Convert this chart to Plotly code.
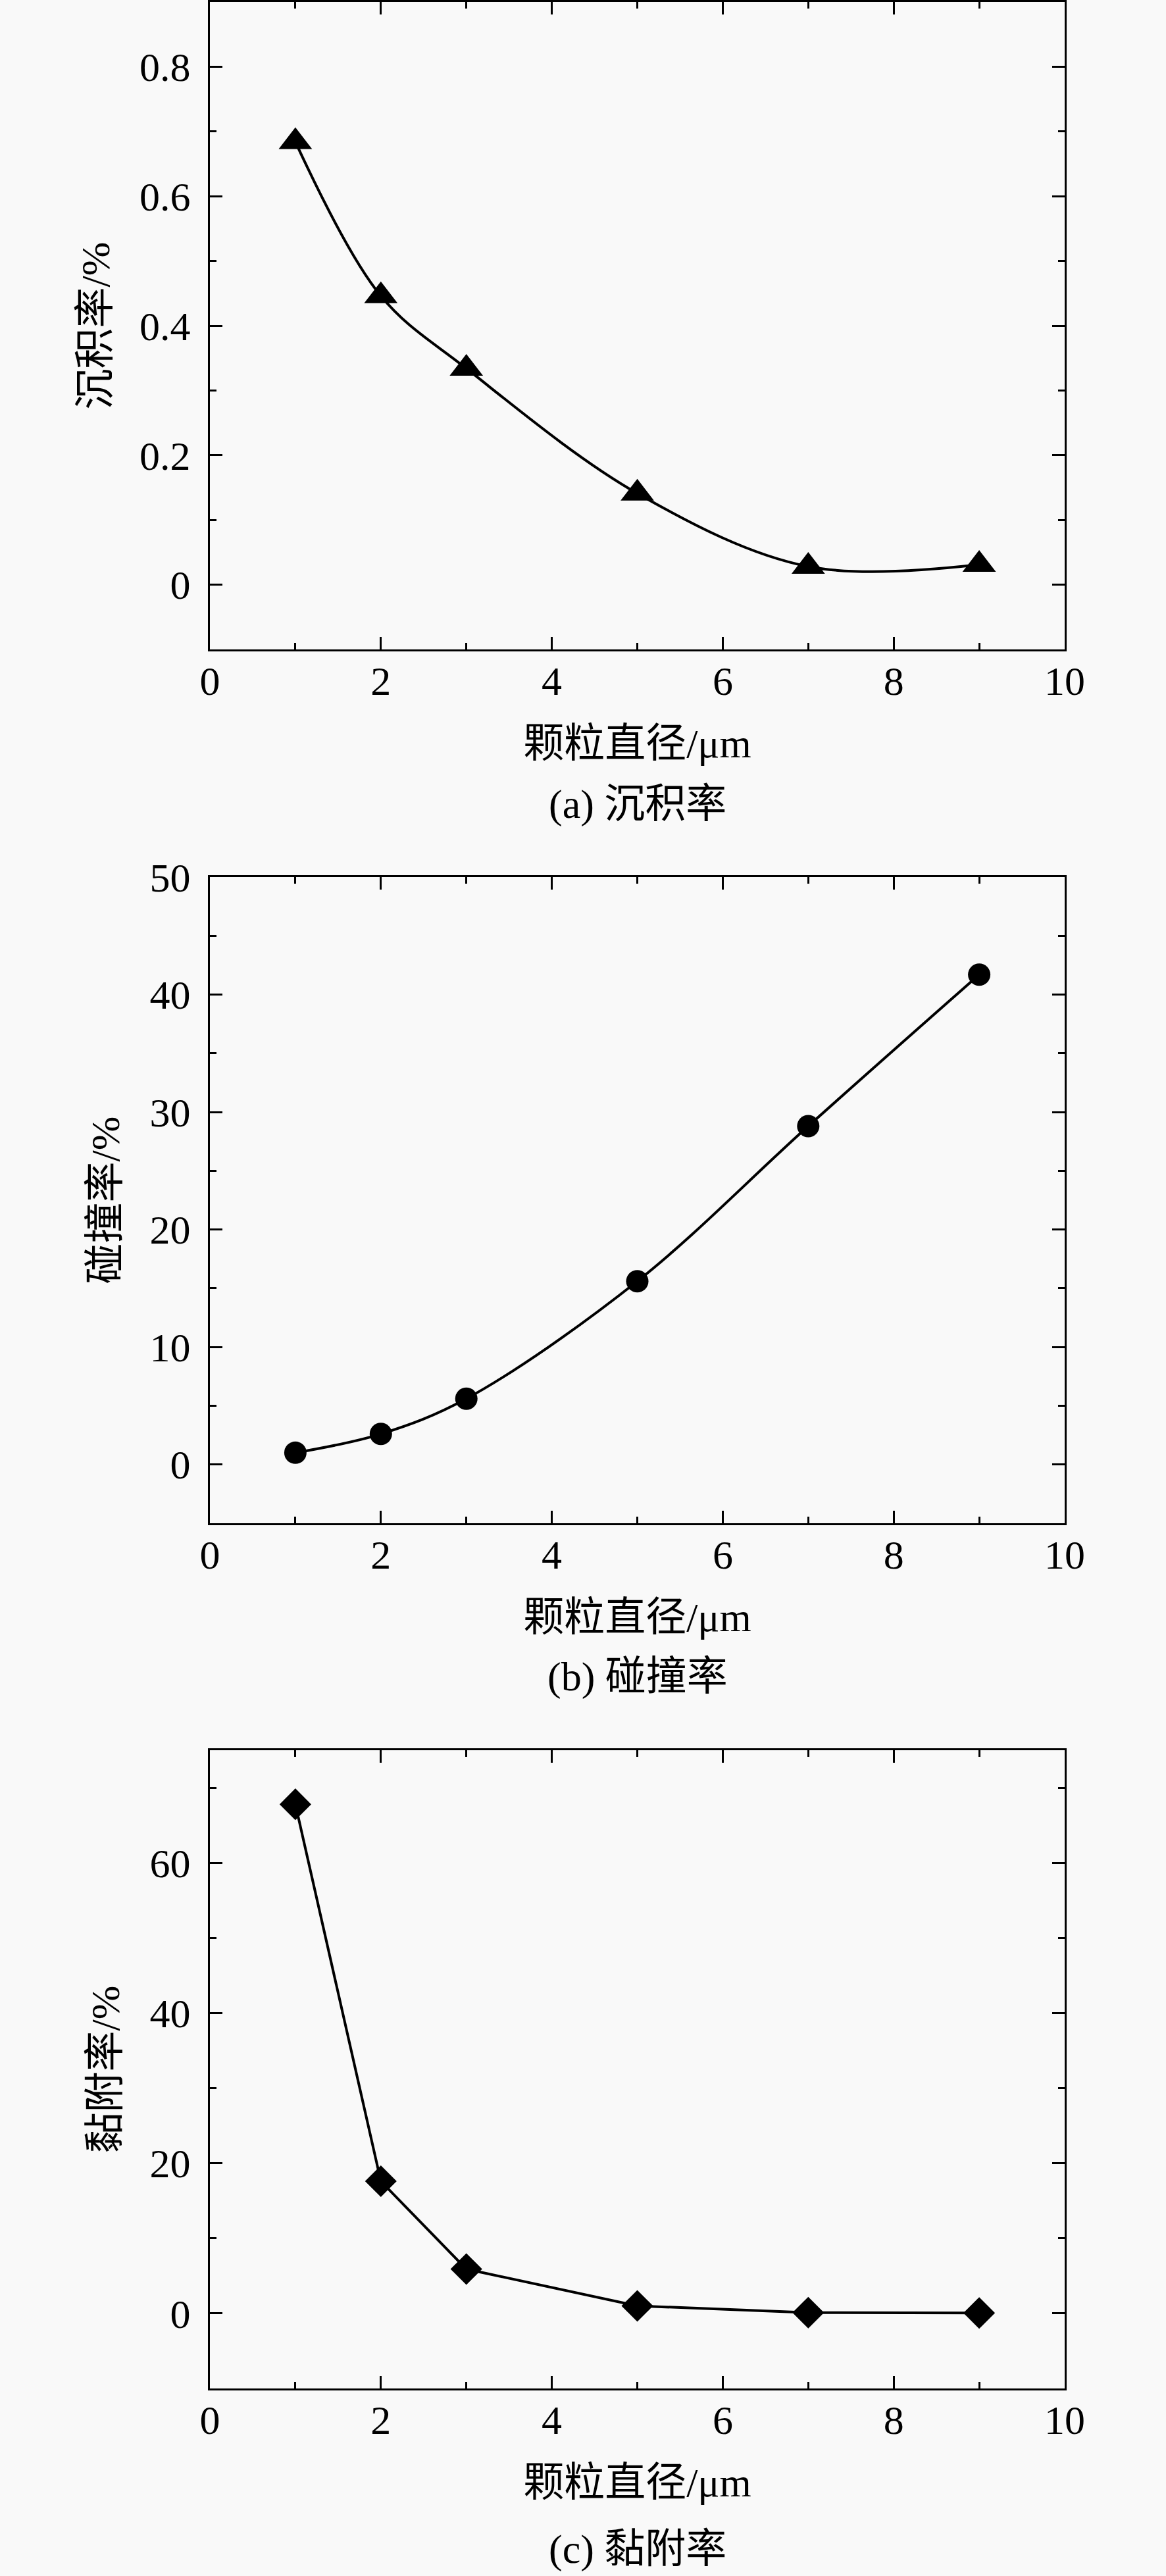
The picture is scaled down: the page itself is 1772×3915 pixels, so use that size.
import plotly.graph_objects as go

# particle diameter, um
diameter = [1, 2, 3, 5, 7, 9]

# (a) deposition rate, %
deposition = [0.684, 0.446, 0.334, 0.141, 0.028, 0.031]
# (b) collision rate, %
collision = [1.0, 2.6, 5.6, 15.6, 28.8, 41.7]
# (c) adhesion rate, %
adhesion = [67.8, 17.6, 5.9, 1.0, 0.1, 0.05]

x_ticks = [0, 2, 4, 6, 8, 10]
a_ticks = [0, 0.2, 0.4, 0.6, 0.8]
a_labels = ["0", "0.2", "0.4", "0.6", "0.8"]
b_ticks = [0, 10, 20, 30, 40, 50]
c_ticks = [0, 20, 40, 60]

x_title = "颗粒直径/μm"
captions = ["(a) 沉积率", "(b) 碰撞率", "(c) 黏附率"]
y_titles = ["沉积率/%", "碰撞率/%", "黏附率/%"]

W, H = 1772, 3915
BG = "#f9f9f9"
FONT = "Liberation Serif, Noto Sans CJK SC, serif"

# pixel boxes of the three panels (top, bottom)
panels = [(3, 987), (1333, 2315), (2660, 3630)]
x_dom = [319 / W, 1618 / W]

fig = go.Figure()

series = [
    (deposition, "triangle-up", 44, "spline"),
    (collision, "circle", 34, "spline"),
    (adhesion, "diamond", 37, "linear"),
]
for i, (ys, sym, size, shape) in enumerate(series):
    sfx = "" if i == 0 else str(i + 1)
    fig.add_trace(go.Scatter(
        x=diameter, y=ys, mode="lines+markers",
        line=dict(color="black", width=4, shape=shape, smoothing=1.0),
        marker=dict(symbol=sym, size=size, color="black"),
        xaxis="x" + sfx, yaxis="y" + sfx, showlegend=False,
    ))

axis_common = dict(
    showline=True, linecolor="black", linewidth=3, mirror="ticks",
    ticks="inside", ticklen=19, tickwidth=3, tickcolor="black",
    showgrid=False, zeroline=False, automargin=False,
    tickfont=dict(family=FONT, size=62, color="black"),
)

y_specs = [
    dict(range=[-0.1, 0.9], tickvals=a_ticks, ticktext=a_labels,
         minor=dict(dtick=0.1, tick0=0, ticklen=10, tickwidth=3, tickcolor="black", ticks="inside")),
    dict(range=[-5, 50], tickvals=b_ticks,
         minor=dict(dtick=5, tick0=0, ticklen=10, tickwidth=3, tickcolor="black", ticks="inside")),
    dict(range=[-10, 75], tickvals=c_ticks,
         minor=dict(dtick=10, tick0=0, ticklen=10, tickwidth=3, tickcolor="black", ticks="inside")),
]

layout = dict(
    width=W, height=H, margin=dict(l=0, r=0, t=0, b=0),
    paper_bgcolor=BG, plot_bgcolor=BG,
    font=dict(family=FONT, size=62, color="black"),
)

for i, (top, bot) in enumerate(panels):
    sfx = "" if i == 0 else str(i + 1)
    y_dom = [1 - bot / H, 1 - top / H]
    layout["xaxis" + sfx] = dict(
        axis_common, domain=x_dom, range=[0, 10], tickvals=x_ticks,
        anchor="y" + sfx, ticklabelstandoff=-8,
        minor=dict(dtick=1, tick0=0, ticklen=10, tickwidth=3, tickcolor="black", ticks="inside"),
        title=dict(text=x_title, standoff=40, font=dict(family=FONT, size=62)),
    )
    layout["yaxis" + sfx] = dict(
        axis_common, domain=y_dom, anchor="x" + sfx, ticklabelstandoff=14,
        title=dict(text=y_titles[i], standoff=26, font=dict(family=FONT, size=62)),
        **y_specs[i],
    )

fig.update_layout(**layout)

caption_y = [1223, 2548, 3874]
for cap, cy in zip(captions, caption_y):
    fig.add_annotation(
        text=cap, x=(x_dom[0] + x_dom[1]) / 2, y=1 - cy / H,
        xref="paper", yref="paper", showarrow=False,
        xanchor="center", yanchor="middle",
        font=dict(family=FONT, size=62, color="black"),
    )

# drop the default page margin so the figure sits at the window origin
fig.write_html("out.html", config={"displayModeBar": False},
               post_script="document.body.style.margin='0px';")
